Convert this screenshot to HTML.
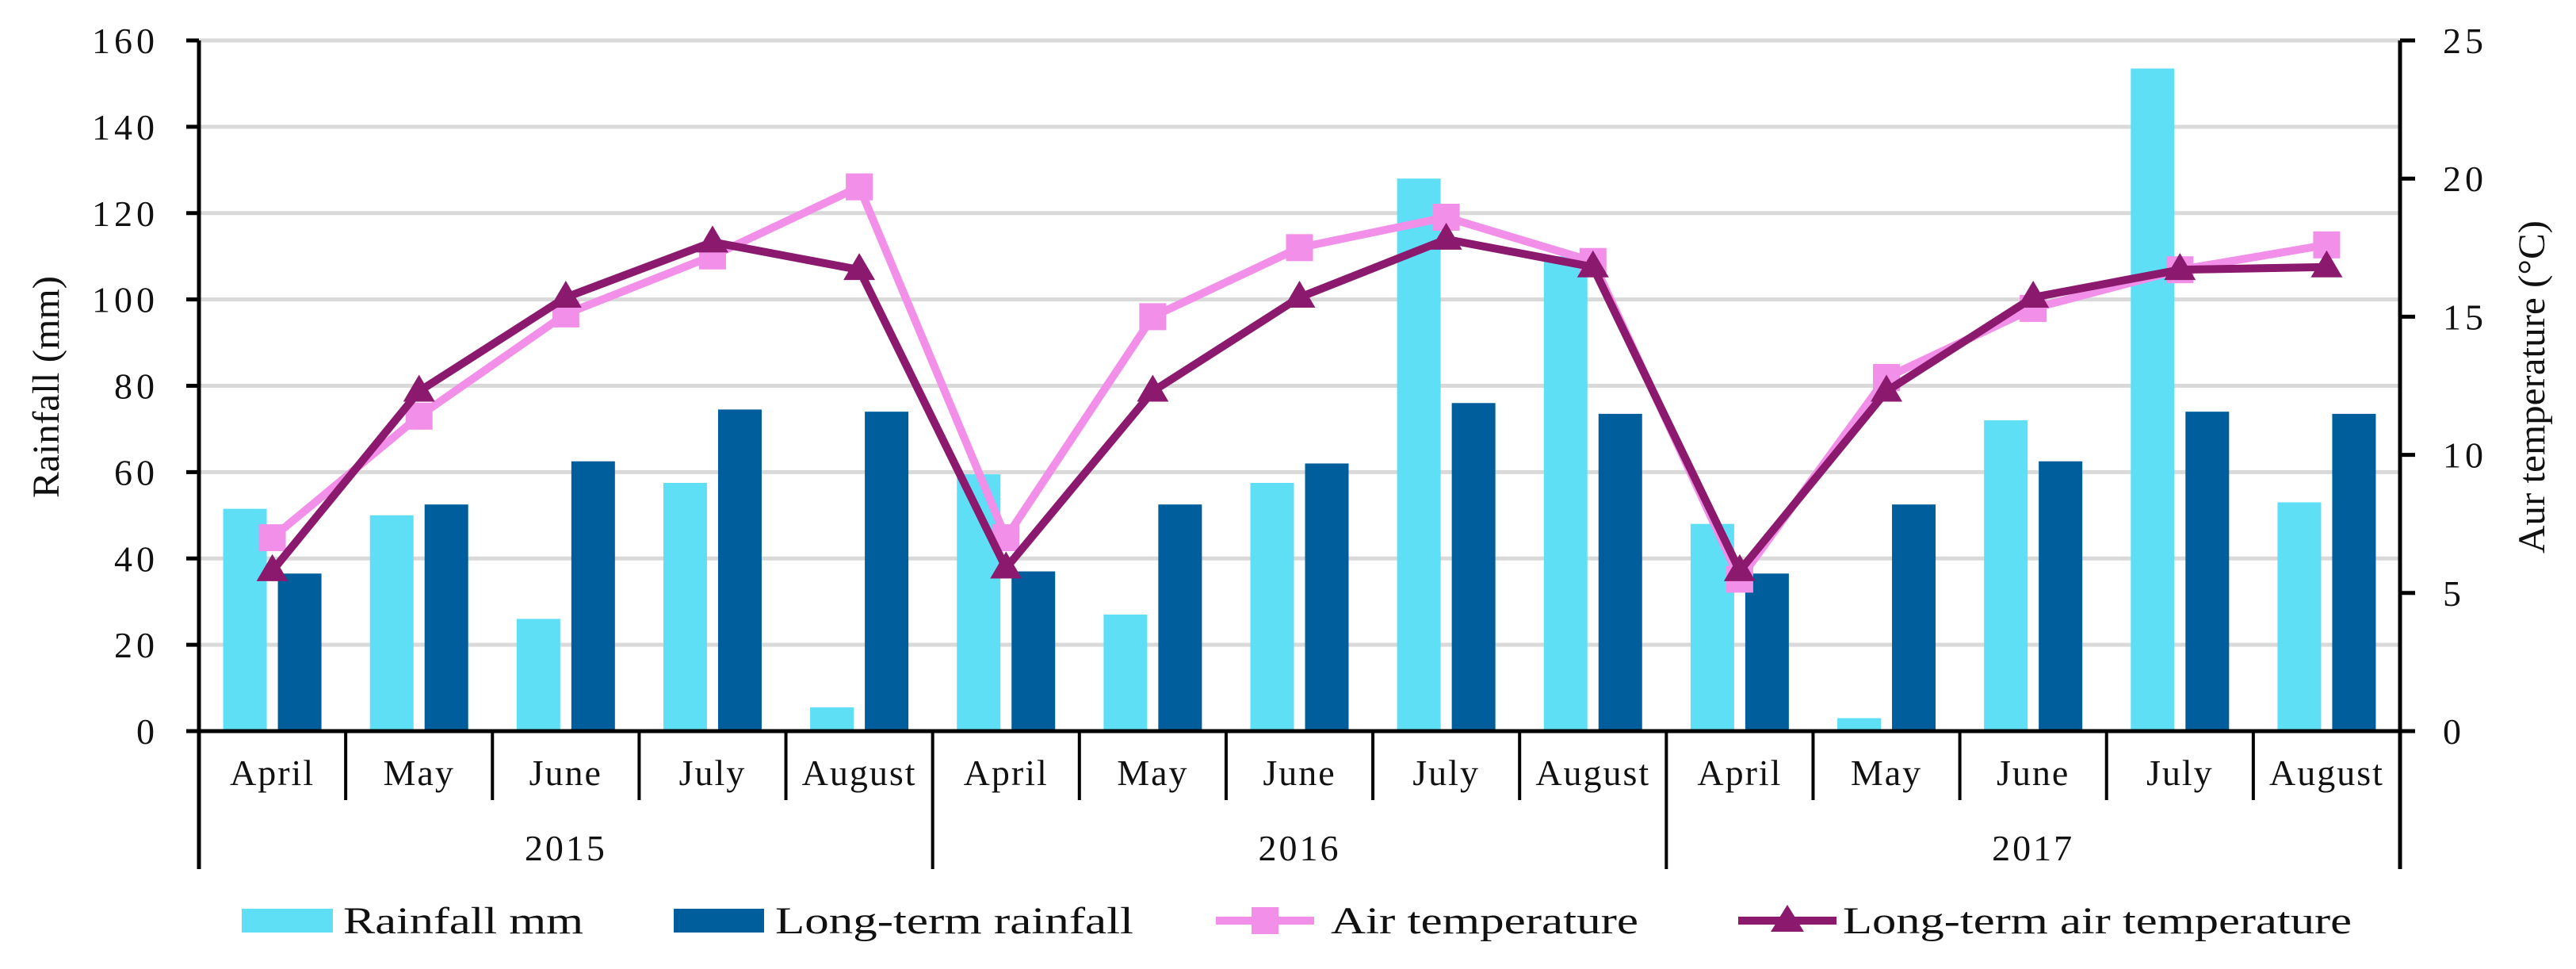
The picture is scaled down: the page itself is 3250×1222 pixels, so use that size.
<!DOCTYPE html>
<html><head><meta charset="utf-8"><style>
html,body{margin:0;padding:0;background:#fff;}
svg{display:block;}
text{font-family:"Liberation Serif",serif;fill:#111;}
</style></head><body>
<svg id="chart" width="3250" height="1222" viewBox="0 0 3250 1222" xmlns="http://www.w3.org/2000/svg">
<g id="grid"></g>
<g id="bars"></g>
<g id="lines"></g>
<g id="axes"></g>
<text x="0" y="0" font-size="48" text-anchor="middle" textLength="280" lengthAdjust="spacingAndGlyphs" transform="translate(74,488) rotate(-90)">Rainfall (mm)</text>
<text x="0" y="0" font-size="48" text-anchor="middle" textLength="420" lengthAdjust="spacingAndGlyphs" transform="translate(3210,488) rotate(-90)">Aur temperature (°C)</text>
<g>
  <g><rect x="305" y="1146" width="115" height="30" fill="#5fdff5"/><text x="433" y="1177" font-size="48" textLength="303" lengthAdjust="spacingAndGlyphs">Rainfall mm</text></g>
  <g><rect x="850" y="1146" width="114" height="30" fill="#005e9c"/><text x="978" y="1177" font-size="48" textLength="452" lengthAdjust="spacingAndGlyphs">Long-term rainfall</text></g>
  <g><line x1="1534" y1="1161" x2="1658" y2="1161" stroke="#f28fe8" stroke-width="10"/><rect x="1579" y="1144" width="34" height="34" fill="#f28fe8"/><text x="1679" y="1177" font-size="48" textLength="388" lengthAdjust="spacingAndGlyphs">Air temperature</text></g>
  <g><line x1="2193" y1="1161" x2="2317" y2="1161" stroke="#8b1a6e" stroke-width="10"/><polygon points="2255,1141 2276,1175 2234,1175" fill="#8b1a6e"/><text x="2325" y="1177" font-size="48" textLength="642" lengthAdjust="spacingAndGlyphs">Long-term air temperature</text></g>
</g>
</svg>
<script>
const months = ["April","May","June","July","August","April","May","June","July","August","April","May","June","July","August"];
const years = ["2015","2016","2017"];
const rainfall = [51.5,50,26,57.5,5.5, 59.5,27,57.5,128,110, 48,3,72,153.5,53];
const longTermRainfall = [36.5,52.5,62.5,74.5,74, 37,52.5,62,76,73.5, 36.5,52.5,62.5,74,73.5];
const airTemp = [7.0,11.4,15.1,17.2,19.7, 7.0,15.0,17.5,18.6,17.0, 5.5,12.8,15.3,16.7,17.6];
const longTermAirTemp = [5.8,12.3,15.7,17.7,16.7, 5.9,12.3,15.7,17.8,16.8, 5.8,12.3,15.7,16.7,16.8];
const leftTicks = [0,20,40,60,80,100,120,140,160];
const rightTicks = [0,5,10,15,20,25];

const NS="http://www.w3.org/2000/svg";
const X0=251, X1=3028, Y0=922, Y1=51;
const cw=(X1-X0)/months.length;
const yL=v=>Y0-(v/160)*(Y0-Y1);
const yR=v=>Y0-(v/25)*(Y0-Y1);
const cx=i=>X0+cw*(i+0.5);
function mk(tag,attrs,parent){const e=document.createElementNS(NS,tag);for(const k in attrs)e.setAttribute(k,attrs[k]);parent.appendChild(e);return e;}
const grid=document.getElementById('grid'),bars=document.getElementById('bars'),lines=document.getElementById('lines'),axes=document.getElementById('axes');

leftTicks.forEach(t=>{
  if(t>0){const g=mk('line',{x1:X0,x2:X1,y1:yL(t),y2:yL(t),stroke:'#d9d9d9','stroke-width':5},grid);
  
  }
  const tk=mk('line',{x1:235,x2:X0,y1:yL(t),y2:yL(t),stroke:'#000','stroke-width':5},axes);
  
  
  const tx=mk('text',{x:200,y:yL(t)+16,'font-size':46,'letter-spacing':5,'text-anchor':'end'},axes);tx.textContent=t;
  
  
});
rightTicks.forEach(t=>{
  const tk=mk('line',{x1:X1,x2:3047,y1:yR(t),y2:yR(t),stroke:'#000','stroke-width':5},axes);
  
  
  const tx=mk('text',{x:3082,y:yR(t)+16,'font-size':46,'letter-spacing':5,'text-anchor':'start'},axes);tx.textContent=t;
  
  
});
const bw=55, gap=14;
months.forEach((m,i)=>{
  const c=cx(i);
  const b1=mk('rect',{x:c-gap/2-bw,y:yL(rainfall[i]),width:bw,height:Y0-yL(rainfall[i]),fill:'#5fdff5'},bars);
  
  
  const b2=mk('rect',{x:c+gap/2,y:yL(longTermRainfall[i]),width:bw,height:Y0-yL(longTermRainfall[i]),fill:'#005e9c'},bars);
  
  
  const ml=mk('text',{x:c,y:990,'font-size':46,'letter-spacing':2,'text-anchor':'middle'},axes);ml.textContent=m;
  
  
});
for(let i=0;i<=months.length;i++){
  const x=X0+cw*i; const yr=(i%5===0);
  const l=mk('line',{x1:x,x2:x,y1:Y0,y2:yr?1096:1009,stroke:'#000','stroke-width':4},axes);
  
  
}
years.forEach((y,j)=>{
  const t=mk('text',{x:X0+cw*(j*5+2.5),y:1085,'font-size':46,'letter-spacing':3,'text-anchor':'middle'},axes);t.textContent=y;
  
  
});
const ax1=mk('line',{x1:X0,x2:X0,y1:Y1,y2:1096,stroke:'#000','stroke-width':5},axes);


const ax2=mk('line',{x1:X1,x2:X1,y1:Y1,y2:1096,stroke:'#000','stroke-width':5},axes);


const ax3=mk('line',{x1:235,x2:3047,y1:Y0,y2:Y0,stroke:'#000','stroke-width':5},axes);



const p1=mk('polyline',{points:airTemp.map((v,i)=>cx(i)+','+yR(v)).join(' '),fill:'none',stroke:'#f28fe8','stroke-width':10,'stroke-linejoin':'round'},lines);


airTemp.forEach((v,i)=>{const r=mk('rect',{x:cx(i)-17,y:yR(v)-17,width:34,height:34,fill:'#f28fe8'},lines);
  
  });
const p2=mk('polyline',{points:longTermAirTemp.map((v,i)=>cx(i)+','+yR(v)).join(' '),fill:'none',stroke:'#8b1a6e','stroke-width':10,'stroke-linejoin':'round'},lines);


longTermAirTemp.forEach((v,i)=>{const x=cx(i),y=yR(v);
  const t=mk('polygon',{points:`${x},${y-21} ${x+20},${y+13} ${x-20},${y+13}`,fill:'#8b1a6e'},lines);
  
  });
</script>
</body></html>
